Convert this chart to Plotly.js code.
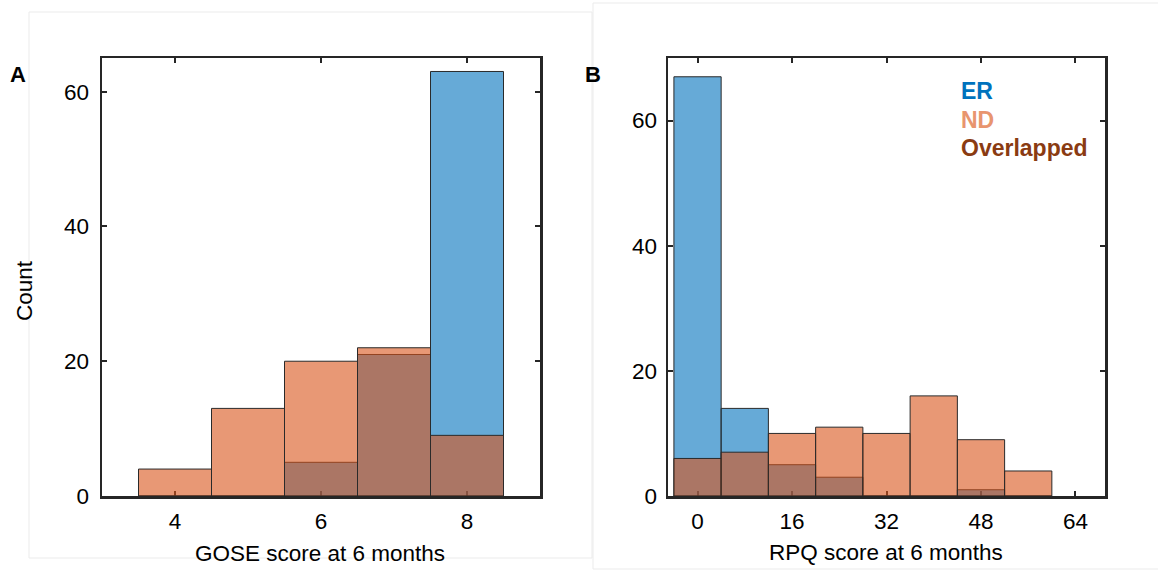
<!DOCTYPE html>
<html>
<head>
<meta charset="utf-8">
<script src="https://cdn.plot.ly/plotly-3.0.1.min.js"></script>
<style>
  html, body { margin: 0; padding: 0; background: #ffffff; }
  #chart { width: 1158px; height: 570px; }
</style>
</head>
<body>
<div id="chart"></div>
<script>
// ---- Data ----
const goseBinCenters = [4, 5, 6, 7, 8];
const goseBinWidth = 1;
const goseER = [0, 0, 5, 21, 63];
const goseND = [4, 13, 20, 22, 9];

const rpqBinCenters = [0, 8, 16, 24, 32, 40, 48, 56];
const rpqBinWidth = 8;
const rpqER = [67, 14, 5, 3, 0, 0, 1, 0];
const rpqND = [6, 7, 10, 11, 10, 16, 9, 4];

const goseTicks = [4, 6, 8];
const rpqTicks = [0, 16, 32, 48, 64];
const countTicks = [0, 20, 40, 60];

const legendLabels = ['ER', 'ND', 'Overlapped'];
const panelLabels = ['A', 'B'];

// ---- Styling ----
const W = 1158, H = 570;
const FONT = 'Liberation Sans, Arial, Helvetica, sans-serif';
const ER_FILL = 'rgba(0,114,189,0.6)';
const ND_FILL = 'rgba(217,83,25,0.6)';
const EDGE = '#2a2a2a';
const AXC = '#262626';
const px = x => x / W;
const py = y => 1 - y / H;

function barTrace(x, y, width, fill, xa, ya, name) {
  return {
    type: 'bar', x: x, y: y, width: width, name: name,
    xaxis: xa, yaxis: ya,
    marker: { color: fill, line: { color: EDGE, width: 1 } },
    showlegend: false, hoverinfo: 'x+y'
  };
}

const traces = [
  barTrace(goseBinCenters, goseER, goseBinWidth, ER_FILL, 'x', 'y', 'ER'),
  barTrace(goseBinCenters, goseND, goseBinWidth, ND_FILL, 'x', 'y', 'ND'),
  barTrace(rpqBinCenters, rpqER, rpqBinWidth, ER_FILL, 'x2', 'y2', 'ER'),
  barTrace(rpqBinCenters, rpqND, rpqBinWidth, ND_FILL, 'x2', 'y2', 'ND')
];

function axisBase(extra) {
  return Object.assign({
    showline: true, linecolor: AXC, linewidth: 2.5, mirror: 'ticks',
    ticks: 'inside', ticklen: 5, tickwidth: 2, tickcolor: AXC,
    showgrid: false, zeroline: false, fixedrange: true,
    tickfont: { family: FONT, size: 22.5, color: '#000' },
    layer: 'below traces'
  }, extra);
}

const yTop = 58, yBot = 496;
const layout = {
  width: W, height: H,
  margin: { l: 0, r: 0, t: 0, b: 0 },
  paper_bgcolor: '#ffffff', plot_bgcolor: '#ffffff',
  barmode: 'overlay', bargap: 0,
  font: { family: FONT, color: '#000' },
  xaxis: axisBase({ domain: [px(102), px(540)], range: [3, 9], tickvals: goseTicks, anchor: 'y', ticklabelstandoff: 3 }),
  yaxis: axisBase({ domain: [py(yBot), py(yTop)], range: [0, 65], tickvals: countTicks, anchor: 'x', ticklabelstandoff: 6 }),
  xaxis2: axisBase({ domain: [px(668), px(1105)], range: [-5, 69], tickvals: rpqTicks, anchor: 'y2', ticklabelstandoff: 3 }),
  yaxis2: axisBase({ domain: [py(yBot), py(yTop)], range: [0, 70], tickvals: countTicks, anchor: 'x2', ticklabelstandoff: 4 }),
  shapes: [
    { type: 'rect', xref: 'paper', yref: 'paper', x0: px(29), x1: px(592), y0: py(558), y1: py(12),
      line: { color: '#ebebeb', width: 1 }, layer: 'below' },
    { type: 'rect', xref: 'paper', yref: 'paper', x0: px(593), x1: px(1162), y0: py(569), y1: py(3),
      line: { color: '#ebebeb', width: 1 }, layer: 'below' }
  ],
  annotations: [
    { text: '<b>' + panelLabels[0] + '</b>', xref: 'paper', yref: 'paper', x: px(18), y: py(75),
      xanchor: 'center', yanchor: 'middle', showarrow: false, font: { family: FONT, size: 22, color: '#000' } },
    { text: '<b>' + panelLabels[1] + '</b>', xref: 'paper', yref: 'paper', x: px(593), y: py(75),
      xanchor: 'center', yanchor: 'middle', showarrow: false, font: { family: FONT, size: 22, color: '#000' } },
    { text: 'Count', xref: 'paper', yref: 'paper', x: px(24), y: py(291), textangle: -90,
      xanchor: 'center', yanchor: 'middle', showarrow: false, font: { family: FONT, size: 22.5, color: '#000' } },
    { text: 'GOSE score at 6 months', xref: 'paper', yref: 'paper', x: px(320), y: py(553),
      xanchor: 'center', yanchor: 'middle', showarrow: false, font: { family: FONT, size: 22.5, color: '#000' } },
    { text: 'RPQ score at 6 months', xref: 'paper', yref: 'paper', x: px(886), y: py(552),
      xanchor: 'center', yanchor: 'middle', showarrow: false, font: { family: FONT, size: 22.5, color: '#000' } },
    { text: '<b>' + legendLabels[0] + '</b>', xref: 'paper', yref: 'paper', x: px(959), y: py(91),
      xanchor: 'left', yanchor: 'middle', showarrow: false, font: { family: FONT, size: 23, color: '#0072BD' } },
    { text: '<b>' + legendLabels[1] + '</b>', xref: 'paper', yref: 'paper', x: px(959), y: py(120),
      xanchor: 'left', yanchor: 'middle', showarrow: false, font: { family: FONT, size: 23, color: '#E8956F' } },
    { text: '<b>' + legendLabels[2] + '</b>', xref: 'paper', yref: 'paper', x: px(959), y: py(148),
      xanchor: 'left', yanchor: 'middle', showarrow: false, font: { family: FONT, size: 23, color: '#8A3B12' } }
  ]
};

Plotly.newPlot('chart', traces, layout, { staticPlot: true, displayModeBar: false });
</script>
</body>
</html>
